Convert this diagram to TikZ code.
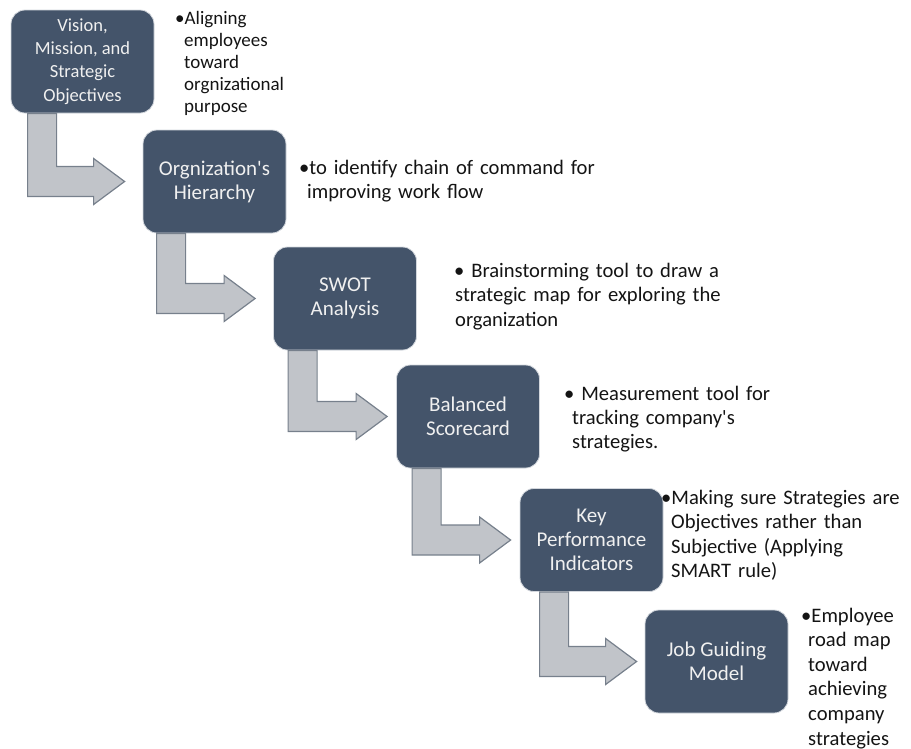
\documentclass[tikz,border=0pt]{standalone}
\usepackage{fontspec}
\setmainfont{Carlito}
\usetikzlibrary{calc}
\definecolor{boxfill}{HTML}{44546A}
\definecolor{boxline}{HTML}{D3D7DD}
\definecolor{turnfill}{HTML}{C1C4C9}
\definecolor{turnline}{HTML}{77808C}
\tikzset{
  stage/.style={draw=boxline, line width=0.8pt, fill=boxfill, rounded corners=14pt,
    minimum width=143pt, minimum height=103pt, text=white!94!black, align=center,
    font=\fontsize{21}{24}\selectfont},
  note/.style={anchor=base west, inner sep=0pt, text width=330pt, align=left,
    text=black!92, font=\fontsize{20.6}{24.5}\selectfont},
  turn/.style={fill=turnfill, draw=turnline, line width=1.2pt, line join=miter}
}
% bullet hanging out of the lines that follow it
\newcommand{\hangbullet}[2]{\leftskip=#1\hspace*{-#1}\textbullet#2\par}
% bent arrow from the foot of #1 to the side of #2 (#3 stem offset, #4 gap)
\newcommand{\stepturn}[4]{%
  \draw[turn] let \p1=(#1.south west), \p2=(#2.west) in
    (\x1+#3,\y1) -- (\x1+#3+29pt,\y1) -- (\x1+#3+29pt,\y2+15pt)
    -- (\x2-#4-31pt,\y2+15pt) -- (\x2-#4-31pt,\y2+23pt) -- (\x2-#4,\y2)
    -- (\x2-#4-31pt,\y2-23pt) -- (\x2-#4-31pt,\y2-15pt)
    -- (\x1+#3,\y2-15pt) -- cycle;}
\begin{document}
\begin{tikzpicture}[x=1pt,y=-1pt]
\useasboundingbox (0,0) rectangle (911,748);

\node[stage,font=\fontsize{18.5}{23.2}\selectfont] (vision) at (82.5,61.5)
  {Vision,\\Mission, and\\Strategic\\Objectives};
\node[stage] (hierarchy) at (214.5,181.5) {Orgnization\textquotesingle s\\Hierarchy};
\node[stage] (swot) at (345,298.5) {SWOT\\Analysis};
\node[stage] (scorecard) at (468,416.5) {Balanced\\Scorecard};
\node[stage] (kpi) at (591.5,540) {Key\\Performance\\Indicators};
\node[stage] (jobmodel) at (716.5,661.5) {Job Guiding\\Model};

\stepturn{vision}{hierarchy}{17pt}{18pt}
\stepturn{hierarchy}{swot}{14pt}{18pt}
\stepturn{swot}{scorecard}{15pt}{9pt}
\stepturn{scorecard}{kpi}{16pt}{9pt}
\stepturn{kpi}{jobmodel}{20pt}{8pt}

\node[note,font=\fontsize{19}{22.2}\selectfont] (aligning) at (175,24)
  {\hangbullet{9pt}{Aligning\\employees\\toward\\orgnizational\\purpose}};
\node[note] (chain) at (299,174)
  {\hangbullet{8pt}{to identify chain of command for\\improving work flow}};
\node[note] (brainstorm) at (454,277)
  {\hangbullet{1pt}{\ Brainstorming tool to draw a\\strategic map for exploring the\\organization}};
\node[note,font=\fontsize{20.6}{24}\selectfont] (measure) at (564,400)
  {\hangbullet{8pt}{\ Measurement tool for\\tracking company\textquotesingle s\\strategies.}};
\node[note] (smart) at (661,504)
  {\hangbullet{10pt}{Making sure Strategies are\\Objectives rather than\\Subjective (Applying\\SMART rule)}};
\node[note,font=\fontsize{20.6}{24.6}\selectfont] (roadmap) at (801,622)
  {\hangbullet{7pt}{Employee\\road map\\toward\\achieving\\company\\strategies}};
\end{tikzpicture}
\end{document}
